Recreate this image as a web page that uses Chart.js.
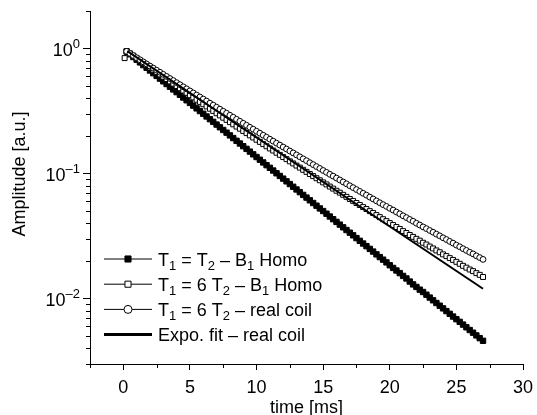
<!DOCTYPE html>
<html>
<head>
<meta charset="utf-8">
<script src="https://cdn.jsdelivr.net/npm/chart.js@4.4.1/dist/chart.umd.min.js"></script>
<style>
  html, body { margin: 0; padding: 0; background: #fff; }
</style>
</head>
<body>
<canvas id="chart" width="537" height="415"></canvas>
<script>
// time axis (ms) shared by the three measured series, 0.25 ms sampling
const times = [0.25, 0.5, 0.75, 1, 1.25, 1.5, 1.75, 2, 2.25, 2.5, 2.75, 3, 3.25, 3.5, 3.75, 4,
  4.25, 4.5, 4.75, 5, 5.25, 5.5, 5.75, 6, 6.25, 6.5, 6.75, 7, 7.25, 7.5, 7.75, 8,
  8.25, 8.5, 8.75, 9, 9.25, 9.5, 9.75, 10, 10.25, 10.5, 10.75, 11, 11.25, 11.5, 11.75, 12,
  12.25, 12.5, 12.75, 13, 13.25, 13.5, 13.75, 14, 14.25, 14.5, 14.75, 15, 15.25, 15.5, 15.75, 16,
  16.25, 16.5, 16.75, 17, 17.25, 17.5, 17.75, 18, 18.25, 18.5, 18.75, 19, 19.25, 19.5, 19.75, 20,
  20.25, 20.5, 20.75, 21, 21.25, 21.5, 21.75, 22, 22.25, 22.5, 22.75, 23, 23.25, 23.5, 23.75, 24,
  24.25, 24.5, 24.75, 25, 25.25, 25.5, 25.75, 26, 26.25, 26.5, 26.75, 27];

// T1 = T2 - B1 Homo (filled squares)
const sameHomo = [0.9471, 0.901, 0.8573, 0.8156, 0.7760, 0.7383, 0.7025, 0.6683, 0.6359, 0.6049,
  0.5755, 0.5476, 0.5210, 0.4957, 0.4716, 0.4487, 0.4269, 0.4062, 0.3865, 0.3677,
  0.3499, 0.3328, 0.3166, 0.3013, 0.2867, 0.2727, 0.2595, 0.2469, 0.2349, 0.2235,
  0.2127, 0.2023, 0.1925, 0.1831, 0.1742, 0.1658, 0.1578, 0.1500, 0.1427, 0.1358,
  0.1292, 0.1229, 0.1169, 0.1113, 0.1059, 0.1007, 0.0958, 0.0912, 0.0868, 0.0825,
  0.0785, 0.0747, 0.0711, 0.0676, 0.0643, 0.0612, 0.0582, 0.0554, 0.0527, 0.0502,
  0.0478, 0.0454, 0.0432, 0.0411, 0.0391, 0.0372, 0.0354, 0.0337, 0.0321, 0.0305,
  0.0290, 0.0276, 0.0263, 0.0250, 0.0238, 0.0226, 0.0215, 0.0205, 0.0195, 0.0185,
  0.0176, 0.0168, 0.0160, 0.0152, 0.0145, 0.0137, 0.0130, 0.0124, 0.0118, 0.0113,
  0.01075, 0.0102, 0.00970, 0.00923, 0.00878, 0.00836, 0.00795, 0.00756, 0.00719, 0.00685,
  0.00652, 0.00620, 0.00590, 0.00561, 0.00534, 0.00508, 0.00483, 0.00460];

// T1 = 6 T2 - B1 Homo (open squares), first sample a bit earlier and lower
const sixHomoFirstTime = 0.1;
const sixHomoFirst = 0.84;
const sixHomo = [0.957, 0.9165, 0.8783, 0.840, 0.8042, 0.770, 0.7384, 0.7067, 0.6775, 0.6483,
  0.6219, 0.5954, 0.5711, 0.5468, 0.5246, 0.5023, 0.4820, 0.4616, 0.4430, 0.4243,
  0.4073, 0.3903, 0.3747, 0.3591, 0.3448, 0.3305, 0.3174, 0.3042, 0.2922, 0.2802,
  0.2692, 0.2581, 0.2480, 0.2379, 0.2287, 0.2194, 0.2109, 0.2023, 0.1945, 0.1866,
  0.1794, 0.1722, 0.1656, 0.1590, 0.1530, 0.1469, 0.1413, 0.1357, 0.1306, 0.1254,
  0.1207, 0.1160, 0.1117, 0.1073, 0.1033, 0.0993, 0.0956, 0.0919, 0.0885, 0.0851,
  0.0820, 0.0788, 0.0759, 0.0730, 0.0704, 0.0677, 0.0652, 0.0627, 0.0605, 0.0582,
  0.0561, 0.0540, 0.0521, 0.0501, 0.0484, 0.0466, 0.0449, 0.0432, 0.0417, 0.0402,
  0.0388, 0.0374, 0.0361, 0.0347, 0.0335, 0.0323, 0.0312, 0.0301, 0.0291, 0.0280,
  0.0271, 0.0261, 0.0252, 0.0243, 0.0235, 0.0226, 0.0219, 0.0211, 0.0204, 0.0197,
  0.0190, 0.0183, 0.0177, 0.0171, 0.0166, 0.0160, 0.0155, 0.0149];

// T1 = 6 T2 - real coil (open circles)
const sixReal = [0.9508, 0.9147, 0.8806, 0.8464, 0.8149, 0.7834, 0.7545, 0.7256, 0.6988, 0.6720,
  0.6472, 0.6223, 0.5994, 0.5764, 0.5553, 0.5342, 0.5147, 0.4951, 0.4771, 0.4590,
  0.4424, 0.4257, 0.4103, 0.3949, 0.3807, 0.3664, 0.3532, 0.3400, 0.3278, 0.3155,
  0.3043, 0.2930, 0.2826, 0.2721, 0.2624, 0.2527, 0.2438, 0.2348, 0.2266, 0.2183,
  0.2106, 0.2028, 0.1957, 0.1885, 0.1819, 0.1753, 0.1692, 0.1631, 0.1574, 0.1517,
  0.1465, 0.1412, 0.1363, 0.1314, 0.1269, 0.1223, 0.1181, 0.1139, 0.1100, 0.1060,
  0.1024, 0.0988, 0.0955, 0.0921, 0.0890, 0.0858, 0.0829, 0.0800, 0.0773, 0.0746,
  0.0721, 0.0696, 0.0673, 0.0649, 0.0627, 0.0605, 0.0585, 0.0565, 0.0547, 0.0528,
  0.0511, 0.0493, 0.0477, 0.0460, 0.0445, 0.0430, 0.0416, 0.0401, 0.0388, 0.0375,
  0.0363, 0.0351, 0.0340, 0.0328, 0.0318, 0.0307, 0.0297, 0.0287, 0.0278, 0.0268,
  0.0260, 0.0251, 0.0243, 0.0235, 0.0228, 0.0220, 0.0213, 0.0206];

// exponential fit (straight on the log axis)
const fitTimes = [0.3, 27];
const fitValues = [0.955, 0.012];

const legendLabels = ['T₁ = T₂ – B₁ Homo', 'T₁ = 6 T₂ – B₁ Homo', 'T₁ = 6 T₂ – real coil', 'Expo. fit – real coil'];
const xTicks = [0, 5, 10, 15, 20, 25, 30];
const xTickLabels = ['0', '5', '10', '15', '20', '25', '30'];
const xMinorTicks = [-2.5, 2.5, 7.5, 12.5, 17.5, 22.5, 27.5];
const yTicks = [1, 0.1, 0.01];
const yTickLabels = ['10⁰', '10⁻¹', '10⁻²'];
const yMinorTicks = [0.003, 0.004, 0.005, 0.006, 0.007, 0.008, 0.009,
  0.02, 0.03, 0.04, 0.05, 0.06, 0.07, 0.08, 0.09,
  0.2, 0.3, 0.4, 0.5, 0.6, 0.7, 0.8, 0.9, 2];
const xTitle = 'time [ms]';
const yTitle = 'Amplitude [a.u.]';

const FONT = "'Liberation Sans', Arial, sans-serif";
const SUP = { '⁰': '0', '¹': '1', '²': '2', '⁻': '–' };
const SUB = { '₁': '1', '₂': '2' };

// split text into normal / superscript / subscript runs
function pieces(text, size) {
  const out = [];
  for (const ch of text) {
    let p;
    if (SUP[ch]) p = { t: SUP[ch], s: size * 0.72, dy: -size * 0.42 };
    else if (SUB[ch]) p = { t: SUB[ch], s: size * 0.72, dy: size * 0.25 };
    else p = { t: ch, s: size, dy: 0 };
    const last = out[out.length - 1];
    if (last && last.s === p.s && last.dy === p.dy) last.t += p.t;
    else out.push(p);
  }
  return out;
}

function drawRich(ctx, text, x, y, size, align) {
  const parts = pieces(text, size);
  let w = 0;
  parts.forEach(p => {
    ctx.font = p.s + 'px ' + FONT;
    p.w = ctx.measureText(p.t).width;
    w += p.w;
  });
  let cx = align === 'right' ? x - w : align === 'center' ? x - w / 2 : x;
  ctx.textAlign = 'left';
  ctx.textBaseline = 'alphabetic';
  parts.forEach(p => {
    ctx.font = p.s + 'px ' + FONT;
    ctx.fillText(p.t, cx, y + p.dy);
    cx += p.w;
  });
}

const toPoints = (xs, ys) => xs.map((t, i) => ({ x: t, y: ys[i] }));

const datasets = [
  {
    label: legendLabels[0],
    data: toPoints(times, sameHomo),
    borderColor: '#000', backgroundColor: '#000', borderWidth: 1,
    pointStyle: 'rect', pointRadius: 3.8, pointBorderWidth: 1,
    order: 3,
  },
  {
    label: legendLabels[1],
    data: toPoints([sixHomoFirstTime].concat(times), [sixHomoFirst].concat(sixHomo)),
    borderColor: '#000', backgroundColor: '#fff', borderWidth: 1,
    pointStyle: 'rect', pointRadius: 3.5, pointBorderWidth: 1,
    order: 2,
  },
  {
    label: legendLabels[2],
    data: toPoints(times, sixReal),
    borderColor: '#000', backgroundColor: '#fff', borderWidth: 1,
    pointStyle: 'circle', pointRadius: 2.9, pointBorderWidth: 1,
    order: 1,
  },
  {
    label: legendLabels[3],
    data: toPoints(fitTimes, fitValues),
    borderColor: '#000', borderWidth: 2, pointRadius: 0,
    order: 0,
  },
];

const extras = {
  id: 'extras',
  afterDraw(chart) {
    const { ctx, chartArea: a, scales: { x, y } } = chart;
    ctx.save();
    ctx.strokeStyle = '#000';
    ctx.fillStyle = '#000';
    ctx.lineWidth = 1;

    // minor ticks
    ctx.beginPath();
    xMinorTicks.forEach(v => {
      const px = Math.round(x.getPixelForValue(v)) + 0.5;
      ctx.moveTo(px, a.bottom);
      ctx.lineTo(px, a.bottom + 4);
    });
    yMinorTicks.forEach(v => {
      const py = Math.round(y.getPixelForValue(v)) + 0.5;
      ctx.moveTo(a.left, py);
      ctx.lineTo(a.left - 4, py);
    });
    ctx.stroke();

    // y tick labels with superscripts
    yTicks.forEach((v, i) => {
      drawRich(ctx, yTickLabels[i], a.left - 10, y.getPixelForValue(v) + 7, 18, 'right');
    });

    // axis titles
    drawRich(ctx, xTitle, (a.left + a.right) / 2, 413, 18, 'center');
    ctx.save();
    ctx.translate(25, 174);
    ctx.rotate(-Math.PI / 2);
    drawRich(ctx, yTitle, 0, 0, 18, 'center');
    ctx.restore();

    // legend
    chart.data.datasets.forEach((ds, i) => {
      const ly = 259 + i * 25.2;
      ctx.strokeStyle = '#000';
      ctx.lineWidth = ds.borderWidth === 2 ? 3 : 1;
      ctx.beginPath();
      ctx.moveTo(104, ly);
      ctx.lineTo(152, ly);
      ctx.stroke();
      if (ds.pointRadius > 0) {
        ctx.lineWidth = 1;
        ctx.fillStyle = ds.backgroundColor;
        Chart.helpers.drawPoint(ctx, {
          pointStyle: ds.pointStyle,
          radius: ds.pointStyle === 'circle' ? 4 : 4.3,
          borderWidth: 1,
          rotation: 0,
        }, 128, ly);
      }
      ctx.fillStyle = '#000';
      drawRich(ctx, ds.label, 158, ly + 6.5, 18, 'left');
    });
    ctx.restore();
  },
};

new Chart(document.getElementById('chart'), {
  type: 'line',
  data: { datasets },
  options: {
    responsive: false,
    animation: false,
    devicePixelRatio: 1,
    layout: { padding: { top: 11, right: 14, left: 0, bottom: 0 } },
    plugins: { legend: { display: false }, tooltip: { enabled: false } },
    scales: {
      x: {
        type: 'linear',
        min: -2.5,
        max: 30,
        afterBuildTicks: s => { s.ticks = xTicks.map(v => ({ value: v })); },
        afterFit: s => {
          s.height = 51;
          s.paddingLeft = 0;
          s.paddingRight = 0;
        },
        ticks: {
          color: '#000',
          font: { family: FONT, size: 18 },
          padding: 7,
          maxRotation: 0,
          autoSkip: false,
          callback: (v, i) => xTickLabels[i],
        },
        grid: { drawOnChartArea: false, drawTicks: true, tickLength: 6, color: '#000' },
        border: { display: true, color: '#000', width: 1 },
      },
      y: {
        type: 'logarithmic',
        min: 0.003,
        max: 2,
        afterBuildTicks: s => { s.ticks = yTicks.map(v => ({ value: v })); },
        afterFit: s => { s.width = 90; },
        ticks: { display: false },
        grid: { drawOnChartArea: false, drawTicks: true, tickLength: 7, color: '#000' },
        border: { display: true, color: '#000', width: 1 },
      },
    },
  },
  plugins: [extras],
});
</script>
</body>
</html>
